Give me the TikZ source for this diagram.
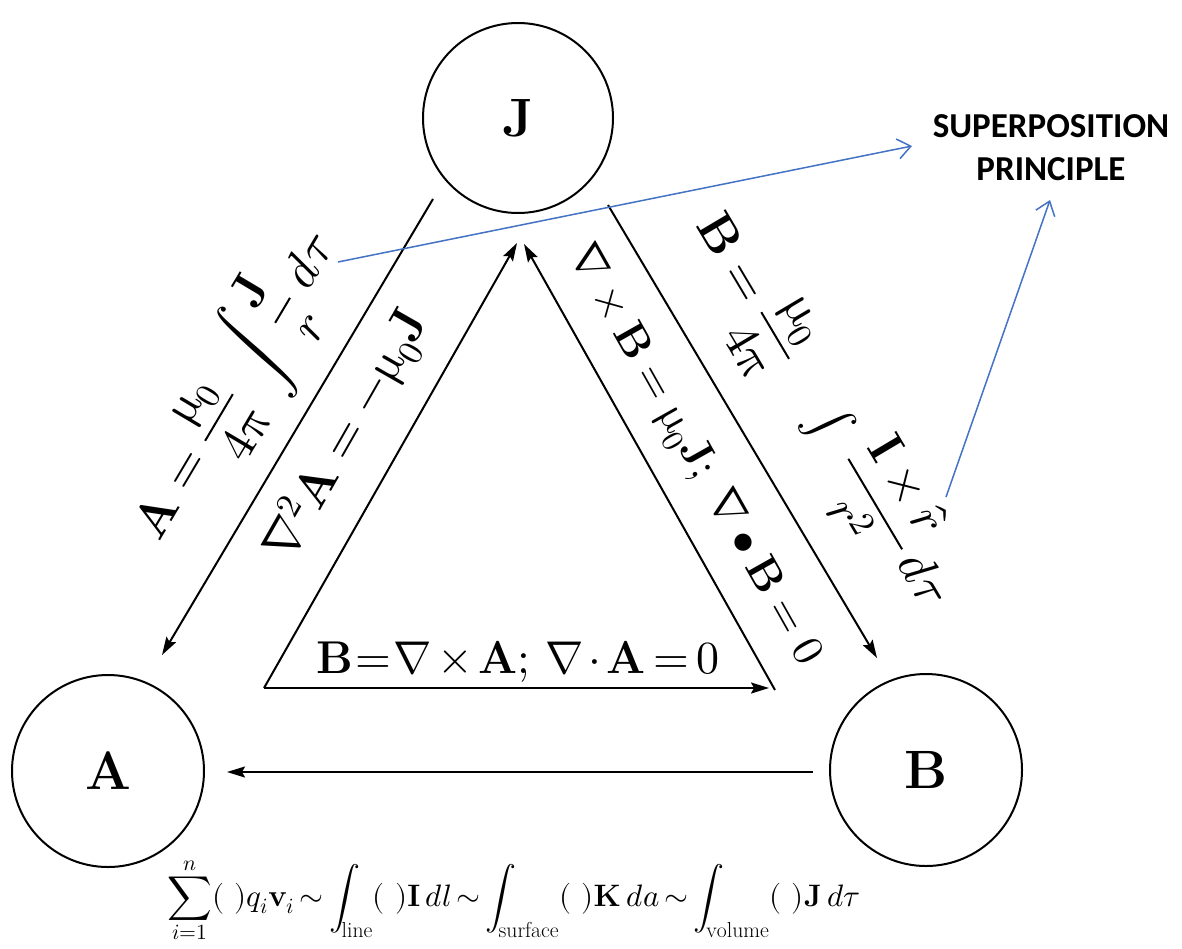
\documentclass[tikz,border=0pt]{standalone}
\usepackage{fontspec}
\usepackage{unicode-math}
\newfontfamily\calibri{Carlito}
\usetikzlibrary{arrows.meta}
\definecolor{supblue}{RGB}{68,114,196}
\tikzset{
  circ/.style={draw, circle, line width=2pt, minimum size=192pt, inner sep=0pt, font=\fontsize{54}{60}\selectfont},
  conn/.style={line width=2pt, -{Stealth[length=18pt,width=11pt,inset=3pt]}},
  bluearrow/.style={draw=supblue, line width=1.5pt, -{Straight Barb[length=13pt,width=20pt]}},
  lbl/.style={inner sep=0pt, font=\fontsize{50}{56}\selectfont},
  suptext/.style={inner sep=0pt, align=center, font=\calibri\bfseries\fontsize{35}{43}\selectfont}
}
\begin{document}
\begin{tikzpicture}[x=1pt,y=-1pt]
\useasboundingbox[fill=white] (0,0) rectangle (1182,948);
% circles
\node[circ, minimum size=190pt] (J) at (518,118) {$\mathbf{J}$};
\node[circ] (A) at (108,771) {$\mathbf{A}$};
\node[circ] (B) at (926,770) {$\mathbf{B}$};
% connector end points
\coordinate (jl) at (433,199);
\coordinate (al) at (162,655);
\coordinate (jr) at (608,205);
\coordinate (br) at (877,658);
\coordinate (ia) at (264,688);
\coordinate (ib) at (775,690);
\coordinate (ibt) at (769,688);
\coordinate (apl) at (517,243);
\coordinate (apr) at (524,244);
\coordinate (bs) at (813,772);
\coordinate (as) at (227,772);
\coordinate (bl1) at (338,262);
\coordinate (bl1e) at (912,146);
\coordinate (bl2) at (946,497);
\coordinate (bl2e) at (1050,200);
% black connectors
\draw[conn] (jl) -- (al);
\draw[conn] (jr) -- (br);
\draw[conn] (ia) -- (apl);
\draw[conn] (ib) -- (apr);
\draw[conn] (ia) -- (ibt);
\draw[conn] (bs) -- (as);
% labels
\node[lbl, rotate=59.3] (l1) at (237,387)
  {$\mathbf{A}=\dfrac{\upmu_0}{4\uppi}\;\displaystyle\int\dfrac{\mathbf{J}}{\mathscr{r}}\;d\tau$};
\node[lbl, rotate=60.3] (l2) at (347,435)
  {$\nabla^2\mathbf{A}=-\upmu_0\mathbf{J}$};
\node[lbl, font=\fontsize{44}{50}\selectfont, rotate=-60.6] (l3) at (693,456)
  {$\nabla\times\mathbf{B}=\upmu_0\mathbf{J};\;\nabla\bullet\mathbf{B}=0$};
\node[lbl, rotate=-59.3] (l4) at (825,409)
  {$\mathbf{B}=\dfrac{\upmu_0}{4\uppi}\quad\textstyle\int\;\displaystyle\dfrac{\mathbf{I}\times\hat{\mathbfscr{r}}}{\mathscr{r}^2}\,d\tau$};
\node[lbl, font=\fontsize{46}{52}\selectfont, anchor=base] (l5) at (518,673)
  {$\thickmuskip=3mu\medmuskip=2mu\mathbf{B}\mkern-2mu=\mkern-2mu\nabla\times\mathbf{A};\,\nabla\cdot\mathbf{A}=0$};
\node[inner sep=0pt, anchor=base, font=\fontsize{31}{38}\selectfont] (l6) at (514,906)
  {$\thickmuskip=3mu\displaystyle\sum_{i=1}^{n}(\,\,)q_i\mathbf{v}_i\sim\int_{\mathrm{line}}(\,\,)\mathbf{I}\,dl\sim\int_{\mathrm{surface}}(\,\,)\mathbf{K}\,da\sim\int_{\mathrm{volume}}(\,\,)\mathbf{J}\,d\tau$};
% superposition
\node[suptext] (sp) at (1051,148) {SUPERPOSITION\\PRINCIPLE};
\draw[bluearrow] (bl1) -- (bl1e);
\draw[bluearrow] (bl2) -- (bl2e);
\end{tikzpicture}
\end{document}
